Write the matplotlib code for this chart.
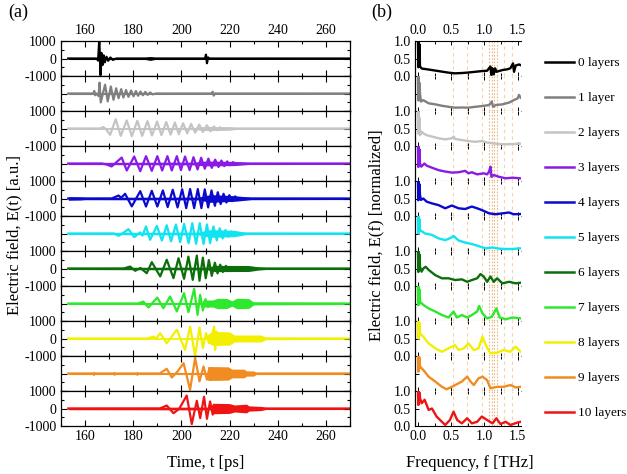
import numpy as np
import matplotlib.pyplot as plt
from matplotlib.ticker import MultipleLocator
from matplotlib.lines import Line2D

plt.rcParams['font.family'] = ['Liberation Serif', 'DejaVu Serif']
plt.rcParams['font.size'] = 10
plt.rcParams['axes.unicode_minus'] = False

labels = ['0 layers', '1 layer', '2 layers', '3 layers', '4 layers', '5 layers',
          '6 layers', '7 layers', '8 layers', '9 layers', '10 layers']
colors = ['#000000', '#808080', '#c4c4c4', '#8a1be6', '#0a0acc', '#10e4f0',
          '#0b6e0b', '#2ee82e', '#f2f000', '#f08c22', '#ee1414']

# time traces: (t [ps], E) at the visible extrema
extrema = [
    [(153, 0), (164.8, 0), (165.4, -120), (165.9, 1100), (166.4, -950), (166.8, 320), (167.2, -380),
     (167.7, 180), (168.2, -220), (168.9, 100), (169.6, -130), (170.5, 60), (171.5, -80), (173, 0),
     (209.8, 0), (210.2, 220), (210.6, -270), (211.1, 60), (211.6, 0), (270, 0)],
    [(153, 0), (163.5, 0), (163.8, 150), (164.2, -100), (164.8, 0), (165.6, -150), (166.0, 620),
     (166.5, -510), (168.3, 500), (169.4, -450), (170.7, 400), (171.8, -360), (172.9, 300),
     (173.9, -270), (175.0, 250), (175.9, -230), (177.0, 200), (178.0, -190), (179.1, 170),
     (180.1, -160), (181.1, 140), (182.0, -130), (183.0, 110), (184.0, -100), (185.0, 90),
     (186.0, -80), (187.0, 60), (188, -50), (189.5, 0), (212.5, 0), (213, 100), (213.4, -120),
     (214, 0), (270, 0)],
    [(153, 0), (166, 0), (167.6, 80), (168.6, -30), (170.4, -360), (172.7, 530), (174.8, -420),
     (177.3, 460), (179.4, -440), (181.7, 440), (183.7, -420), (185.9, 420), (187.8, -400),
     (189.9, 400), (191.7, -380), (193.7, 370), (195.5, -350), (197.3, 340), (198.9, -320),
     (200.7, 300), (202.4, -280), (204.0, 260), (205.7, -240), (207.4, 220), (208.9, -200),
     (210.6, 180), (212.1, -160), (213.5, 120), (214.8, -100), (216, 70), (217.2, -50),
     (218.5, 0), (270, 0)],
    [(153, 0), (167, 0), (169, -60), (171.0, -170), (175.2, 340), (177.3, -400), (180.4, 400),
     (182.9, -440), (185.3, 420), (187.7, -420), (190.0, 420), (192.0, -400), (194.2, 420),
     (196.0, -400), (198.1, 420), (199.8, -380), (201.5, 400), (203.4, -380), (205.0, 360),
     (206.7, -340), (208.2, 330), (209.7, -300), (211.2, 280), (212.6, -250), (214.0, 220),
     (215.4, -200), (216.6, 170), (217.8, -150), (219, 120), (220.2, -100), (221.4, 80),
     (222.6, -60), (224, 0), (270, 0)],
    [(153, 0), (171, 0), (173.9, 170), (175.0, 40), (176.6, 270), (179.4, -450), (182.9, 420),
     (185.3, -460), (187.7, 440), (190.0, -460), (192.3, 460), (194.3, -490), (196.4, 500),
     (198.4, -510), (200.3, 530), (202.0, -550), (203.6, 540), (205.3, -550), (206.8, 540),
     (208.3, -550), (209.7, 520), (211.1, -510), (212.5, 460), (213.9, -420), (215.1, 360),
     (216.3, -320), (217.5, 270), (218.7, -230), (219.9, 190), (221.1, -150), (222.3, 120),
     (223.5, -90), (225, 0), (270, 0)],
    [(153, 0), (172, 0), (173.9, -130), (176, 50), (178.0, 250), (180.4, -210), (182.8, 60),
     (183.8, -120), (185.3, 400), (187.0, -360), (189.8, 430), (191.9, -400), (193.9, 470),
     (195.7, -450), (197.7, 510), (199.5, -490), (201.1, 550), (203.0, -550), (204.5, 590),
     (206.1, -590), (207.6, 590), (209.2, -600), (210.6, 520), (211.9, -550), (213.3, 400),
     (214.7, -400), (215.9, 300), (217.1, -280), (218.3, 200), (219.5, -180), (220.7, 120),
     (222, -100), (223.5, 0), (270, 0)],
    [(153, 0), (176, 0), (178.7, 110), (180.8, -130), (183, 30), (185.6, -270), (187.7, 360),
     (191.2, -450), (193.9, 500), (196.7, -550), (198.8, 590), (201.1, -590), (202.9, 680),
     (204.7, -650), (206.4, 740), (207.5, -700), (208.9, 620), (210.1, -560), (211.4, 480),
     (212.6, -420), (213.9, 330), (215.0, -280), (216.1, 220), (217.2, -200), (218.5, 150),
     (219.8, -120), (221, 0), (270, 0)],
    [(153, 0), (182, 0), (184.2, 110), (186.3, -230), (190.0, 340), (192.5, -270), (195.3, 400),
     (198.1, -450), (201.1, 590), (202.9, -490), (205.3, 840), (206.7, -650), (207.8, 490),
     (208.9, -400), (210, 250), (211, -200), (212, 0), (270, 0)],
    [(153, 0), (186, 0), (188.4, 110), (189.5, 0), (191.2, 300), (193.9, -270), (198.1, 500),
     (201.5, -650), (203.6, 680), (205.7, -1000), (207.5, 630), (208.9, -550), (210.2, 300),
     (211.4, -250), (212.6, 150), (213.6, 680), (214.0, -650), (214.5, 400), (215, -300),
     (216, 0), (270, 0)],
    [(153, 0), (191, 0), (193.9, 270), (196.0, -230), (198.3, 100), (200.9, 590), (203.6, -930),
     (205.7, 900), (207.5, -450), (209.2, 400), (210.6, -350), (211.5, 0), (270, 0)],
    [(153, 0), (191, 0), (193.9, 170), (196.7, -270), (199, -30), (202.2, 740), (204.3, -890),
     (206.4, 440), (207.8, -550), (209.4, 670), (210.6, -590), (211.9, 400), (213.0, -350),
     (214, 0), (270, 0)],
]

# half-width of the unresolved fast ripple / noise band: (t [ps], half-width)
fuzz = [
    [(153, 60), (185, 60), (187, 110), (189, 60), (270, 50)],
    [(153, 60), (190, 60), (270, 50)],
    [(153, 50), (205, 60), (210, 120), (220, 100), (223, 50), (270, 50)],
    [(153, 60), (205, 80), (210, 140), (222, 120), (228, 60), (270, 55)],
    [(153, 100), (158, 90), (160, 70), (207, 80), (212, 220), (222, 160), (229, 70), (270, 60)],
    [(153, 60), (207, 80), (212, 220), (222, 180), (227, 60), (270, 55)],
    [(153, 60), (211, 80), (214, 180), (228, 170), (232, 90), (235, 60), (270, 60)],
    [(153, 60), (208.5, 60), (209, 200), (213, 200), (215, 300), (219, 280), (221, 150),
     (223, 300), (228, 280), (230, 80), (270, 60)],
    [(153, 50), (210.5, 50), (211, 250), (213, 400), (220, 380), (222, 200), (233, 200),
     (235, 70), (270, 50)],
    [(153, 60), (163, 60), (163.5, 130), (164, 60), (171.5, 60), (172, 120), (172.5, 60),
     (181, 60), (181.5, 120), (182, 60), (210.5, 60), (211, 400), (219.5, 380), (221, 250),
     (226, 250), (227, 150), (230, 150), (231, 60), (270, 60)],
    [(153, 70), (212, 80), (213, 300), (220, 280), (222, 200), (227, 250), (228, 150),
     (233, 120), (235, 60), (270, 60)],
]

# spectra: (f [THz], normalized amplitude)
spectra = [
    [(0.0, 1.0), (0.006, 0.25), (0.012, 1.0), (0.018, 0.3), (0.024, 0.9), (0.03, 0.27), (0.06, 0.21),
     (0.106, 0.2), (0.21, 0.17), (0.31, 0.14), (0.46, 0.095), (0.56, 0.076), (0.66, 0.085),
     (0.76, 0.1), (0.86, 0.12), (0.96, 0.14), (1.04, 0.15), (1.09, 0.27), (1.105, 0.03), (1.12, 0.22),
     (1.14, 0.05), (1.16, 0.22), (1.18, 0.12), (1.27, 0.17), (1.34, 0.19), (1.39, 0.22),
     (1.43, 0.36), (1.445, 0.12), (1.47, 0.3), (1.52, 0.33), (1.545, 0.31)],
    [(0.0, 1.0), (0.006, 0.3), (0.012, 0.95), (0.018, 0.35), (0.024, 0.8), (0.03, 0.5), (0.045, 0.27),
     (0.08, 0.31), (0.16, 0.22), (0.26, 0.19), (0.36, 0.15), (0.46, 0.12), (0.56, 0.095), (0.66, 0.1),
     (0.76, 0.095), (0.86, 0.12), (0.96, 0.14), (1.07, 0.17), (1.11, 0.27), (1.13, 0.12),
     (1.17, 0.17), (1.27, 0.19), (1.37, 0.24), (1.44, 0.31), (1.5, 0.36), (1.52, 0.46), (1.545, 0.38)],
    [(0.0, 1.0), (0.006, 0.35), (0.012, 0.95), (0.018, 0.4), (0.024, 0.8), (0.03, 0.31), (0.055, 0.41),
     (0.08, 0.36), (0.13, 0.31), (0.21, 0.27), (0.31, 0.22), (0.41, 0.19), (0.51, 0.22), (0.535, 0.27),
     (0.56, 0.2), (0.66, 0.17), (0.76, 0.14), (0.86, 0.12), (0.96, 0.14), (1.04, 0.1), (1.12, 0.076),
     (1.22, 0.057), (1.32, 0.048), (1.42, 0.057), (1.545, 0.067)],
    [(0.0, 1.0), (0.006, 0.4), (0.012, 1.0), (0.018, 0.45), (0.024, 0.9), (0.03, 0.5), (0.05, 0.41),
     (0.096, 0.5), (0.13, 0.44), (0.21, 0.38), (0.31, 0.31), (0.41, 0.27), (0.51, 0.24), (0.61, 0.25),
     (0.71, 0.29), (0.76, 0.22), (0.81, 0.25), (0.89, 0.19), (0.99, 0.22), (1.04, 0.19), (1.07, 0.27),
     (1.09, 0.41), (1.105, 0.12), (1.14, 0.17), (1.22, 0.12), (1.32, 0.076), (1.42, 0.095),
     (1.545, 0.076)],
    [(0.0, 1.0), (0.006, 0.45), (0.012, 1.0), (0.018, 0.5), (0.024, 0.9), (0.03, 0.6), (0.045, 0.46),
     (0.08, 0.5), (0.13, 0.41), (0.21, 0.36), (0.31, 0.31), (0.41, 0.22), (0.51, 0.3), (0.61, 0.22),
     (0.71, 0.2), (0.81, 0.27), (0.89, 0.22), (0.96, 0.17), (1.07, 0.076), (1.17, 0.05), (1.27, 0.076),
     (1.37, 0.1), (1.44, 0.05), (1.545, 0.057)],
    [(0.0, 1.0), (0.006, 0.5), (0.012, 1.0), (0.018, 0.55), (0.024, 0.9), (0.03, 0.6), (0.106, 0.5),
     (0.21, 0.46), (0.31, 0.36), (0.41, 0.31), (0.51, 0.39), (0.535, 0.43), (0.61, 0.3), (0.71, 0.24),
     (0.81, 0.2), (0.91, 0.14), (1.02, 0.076), (1.12, 0.1), (1.22, 0.067), (1.32, 0.057),
     (1.42, 0.057), (1.545, 0.076)],
    [(0.0, 1.0), (0.006, 0.4), (0.012, 1.0), (0.018, 0.5), (0.024, 0.9), (0.03, 0.55), (0.055, 0.41),
     (0.08, 0.5), (0.115, 0.55), (0.16, 0.46), (0.26, 0.31), (0.36, 0.22), (0.46, 0.22), (0.56, 0.17),
     (0.66, 0.19), (0.74, 0.12), (0.81, 0.17), (0.89, 0.22), (0.94, 0.34), (0.99, 0.27), (1.04, 0.12),
     (1.09, 0.27), (1.14, 0.12), (1.19, 0.22), (1.27, 0.076), (1.37, 0.12), (1.47, 0.076),
     (1.545, 0.095)],
    [(0.0, 1.0), (0.006, 0.45), (0.012, 1.0), (0.018, 0.5), (0.024, 0.9), (0.03, 0.55), (0.08, 0.46),
     (0.16, 0.36), (0.26, 0.27), (0.36, 0.17), (0.46, 0.1), (0.535, 0.27), (0.585, 0.1), (0.66, 0.17),
     (0.74, 0.1), (0.81, 0.17), (0.89, 0.27), (0.92, 0.43), (0.97, 0.22), (1.04, 0.076), (1.11, 0.12),
     (1.18, 0.36), (1.23, 0.1), (1.32, 0.05), (1.42, 0.1), (1.545, 0.076)],
    [(0.0, 1.0), (0.006, 0.5), (0.012, 1.0), (0.018, 0.6), (0.024, 0.95), (0.03, 0.65), (0.08, 0.55),
     (0.16, 0.36), (0.26, 0.22), (0.36, 0.12), (0.46, 0.22), (0.56, 0.31), (0.61, 0.17), (0.69, 0.22),
     (0.76, 0.36), (0.84, 0.17), (0.91, 0.22), (0.97, 0.55), (1.03, 0.27), (1.09, 0.076),
     (1.19, 0.095), (1.29, 0.17), (1.39, 0.12), (1.47, 0.27), (1.545, 0.12)],
    [(0.0, 1.0), (0.006, 0.55), (0.012, 1.0), (0.018, 0.65), (0.024, 0.95), (0.03, 0.7), (0.08, 0.6),
     (0.16, 0.41), (0.26, 0.27), (0.36, 0.12), (0.43, 0.05), (0.51, 0.12), (0.59, 0.2), (0.66, 0.27),
     (0.74, 0.41), (0.79, 0.27), (0.84, 0.17), (0.91, 0.36), (0.97, 0.41), (1.04, 0.31), (1.09, 0.076),
     (1.19, 0.12), (1.29, 0.12), (1.39, 0.17), (1.47, 0.1), (1.545, 0.12)],
    [(0.0, 1.0), (0.006, 0.6), (0.012, 1.0), (0.018, 0.7), (0.024, 0.95), (0.03, 0.8), (0.055, 0.65),
     (0.1, 0.75), (0.16, 0.46), (0.21, 0.5), (0.28, 0.27), (0.36, 0.12), (0.41, 0.03), (0.48, 0.17),
     (0.535, 0.41), (0.59, 0.17), (0.66, 0.076), (0.74, 0.22), (0.81, 0.076), (0.89, 0.12),
     (0.96, 0.27), (1.04, 0.17), (1.12, 0.076), (1.18, 0.22), (1.24, 0.057), (1.32, 0.12),
     (1.39, 0.03), (1.49, 0.095), (1.545, 0.12)],
]

# dashed marker frequencies in (b)
marks_light = [0.52, 0.74, 0.97, 1.30, 1.42]
marks_dense = [1.07, 1.11, 1.15, 1.19]

W, H = 627.0, 474.0
fig = plt.figure(figsize=(W / 100, H / 100), dpi=100)
top, ph = 41.0, 35.0

for k in range(11):
    c = colors[k]
    y0 = 1 - (top + ph * (k + 1)) / H

    # (a) time domain
    axa = fig.add_axes([61 / W, y0, 289 / W, ph / H])
    ft, fw = zip(*fuzz[k])
    fw = np.array(fw)
    axa.fill_between(ft, -fw, fw, color=c, lw=0)
    tt, ee = zip(*extrema[k])
    axa.plot(tt, ee, color=c, lw=1.6)
    axa.set_xlim(150, 270)
    axa.set_ylim(-1000, 1000)
    axa.xaxis.set_major_locator(MultipleLocator(20))
    axa.xaxis.set_minor_locator(MultipleLocator(10))
    axa.set_yticks([-1000, 0, 1000])
    axa.yaxis.set_minor_locator(MultipleLocator(500))
    axa.tick_params(which='both', direction='in', top=True, right=True,
                    labelbottom=(k == 10), labeltop=(k == 0), labelleft=(k % 2 == 0),
                    labelsize=10, pad=3)
    axa.tick_params(which='major', length=4, width=0.8)
    axa.tick_params(which='minor', length=2.5, width=0.8)
    for s in axa.spines.values():
        s.set_linewidth(0.9)

    # (b) frequency domain
    axb = fig.add_axes([415 / W, y0, 106 / W, ph / H])
    for f in marks_light:
        axb.axvline(f, color='#f3d4ad', ls=(0, (3, 3)), lw=0.8, zorder=0)
    for f in marks_dense:
        axb.axvline(f, color='#ecb880', ls=(0, (1.5, 1.5)), lw=0.8, zorder=0)
    ff, aa = zip(*spectra[k])
    axb.plot(ff, aa, color=c, lw=1.7)
    axb.set_xlim(-0.045, 1.55)
    axb.set_ylim(0, 1.0)
    axb.xaxis.set_major_locator(MultipleLocator(0.5))
    axb.xaxis.set_minor_locator(MultipleLocator(0.25))
    axb.set_yticks([0, 0.5, 1.0])
    axb.set_yticklabels(['0.0', '0.5', '1.0'])
    axb.xaxis.set_major_formatter(plt.FormatStrFormatter('%.1f'))
    axb.tick_params(which='both', direction='in', top=True, right=False,
                    labelbottom=(k == 10), labeltop=(k == 0), labelleft=(k % 2 == 0),
                    labelsize=10, pad=3)
    axb.tick_params(which='major', length=3, width=0.7)
    axb.tick_params(which='minor', length=2, width=0.7)
    axb.spines['right'].set_visible(False)
    axb.spines['left'].set_linewidth(0.9)
    if k > 0:
        axb.spines['top'].set_visible(False)
    if k < 10:
        axb.spines['bottom'].set_color('#9a9a9a')
        axb.spines['bottom'].set_linewidth(0.8)
    h = Line2D([], [], color=c, lw=1.8)
    axb.legend([h], [labels[k]], loc='center left', bbox_to_anchor=(1.23, 0.37),
               frameon=False, handlelength=2.2, handletextpad=0.3,
               borderpad=0, borderaxespad=0, fontsize=9.5)

fig.text(18 / W, 1 - 12 / H, '(a)', fontsize=13, ha='center', va='center')
fig.text(382 / W, 1 - 12 / H, '(b)', fontsize=13, ha='center', va='center')
fig.text(14 / W, 1 - 235 / H, 'Electric field, E(t) [a.u.]', rotation=90,
         fontsize=12, ha='center', va='center')
fig.text(376 / W, 1 - 235 / H, 'Electric field, E(f) [normalized]', rotation=90,
         fontsize=12, ha='center', va='center')
fig.text(206 / W, 1 - 463 / H, 'Time, t [ps]', fontsize=12, ha='center', va='center')
fig.text(470 / W, 1 - 463 / H, 'Frequency, f [THz]', fontsize=12, ha='center', va='center')

fig.savefig('out.png', dpi=100)
